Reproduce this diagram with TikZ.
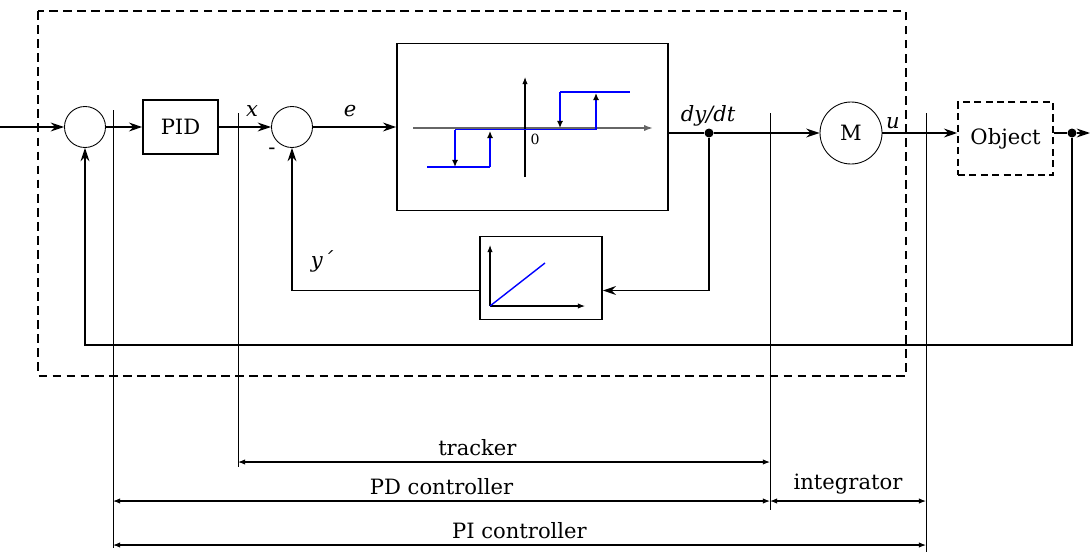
\documentclass[tikz,border=0pt]{standalone}
\usepackage{fontspec}
\setmainfont{DejaVu Serif}
\usetikzlibrary{positioning,arrows.meta}
\begin{document}
\begin{tikzpicture}[x=0.2mm, y=-0.2mm, node distance=1.2cm, >={Stealth[length=7.5pt,width=5pt]}, font=\fontsize{12}{14}\selectfont]
    \tikzstyle{sum}=[draw, circle, line width=0.5pt, minimum size=0.82cm, inner sep=0pt]
    \tikzstyle{block}=[draw, rectangle, line width=0.9pt, inner sep=0pt, align=center]
    \tikzstyle{sig}=[line width=1.1pt]
    \tikzstyle{tick}=[line width=0.5pt]
    \tikzstyle{dim}=[line width=0.6pt, {Latex[length=4pt,width=3pt]}-{Latex[length=4pt,width=3pt]}]
    \tikzstyle{dot}=[circle, fill, inner sep=0pt, minimum size=0.18cm]
    \tikzstyle{curve}=[blue, line width=0.8pt]
    \tikzstyle{jump}=[curve, -{Latex[color=black,length=4pt,width=3.5pt]}]
    \tikzstyle{axis}=[line width=0.6pt, -{Latex[length=4pt,width=3pt]}]
    \tikzstyle{lbl}=[anchor=base, font=\fontsize{12}{14}\selectfont\itshape]

    \useasboundingbox (0,0) rectangle (1091,552);

    \node[sum] (s1) at (85,127) {};
    \node[block, minimum width=1.5cm, minimum height=1.08cm, right of=s1, xshift=0.71cm] (pid) {PID};
    \node[sum, right of=pid, xshift=1.03cm] (s2) {};
    \node[block, minimum width=5.42cm, minimum height=3.34cm, right of=s2, xshift=3.61cm] (hyst) {};
    \node[sum, minimum size=1.24cm, right of=hyst, xshift=5.17cm, yshift=-0.12cm] (m) {M};
    \node[block, dashed, dash pattern=on 4pt off 2.5pt, minimum width=1.9cm, minimum height=1.46cm, right of=m, xshift=1.89cm, yshift=-0.11cm] (obj) {Object};
    \node[block, minimum width=2.44cm, minimum height=1.66cm, below of=hyst, xshift=0.17cm, yshift=-1.82cm] (ramp) {};
    \node[dot] (dy) at (709,133) {};
    \node[dot] (yo) at (1072,133) {};

    \draw[line width=1.1pt, dash pattern=on 5pt off 3pt] (38,11) rectangle (906,376);

    % hysteresis
    \draw[gray!80!black, line width=0.9pt, -{Latex[length=5pt,width=3.5pt]}] (413,128) -- (653,128);
    \draw[axis] (525,177) -- (525,77);
    \node[font=\fontsize{8}{9}\selectfont] at (535,139) {0};
    \draw[curve] (427,167) -- (490,167);
    \draw[curve] (455,129.5) -- (596,129.5);
    \draw[curve] (560,92) -- (630,92);
    \draw[jump] (455,129.5) -- (455,167);
    \draw[jump] (490,167) -- (490,131);
    \draw[jump] (560,92) -- (560,128);
    \draw[jump] (596,129.5) -- (596,93);

    % ramp
    \draw[axis] (490,306) -- (490,245);
    \draw[axis] (490,306) -- (585,306);
    \draw[curve] (490,306) -- (545,263);

    \coordinate (in) at (0,127);
    \coordinate (out) at (1090,133);
    \coordinate (fb) at (1072,345);
    \draw[sig,->] (in) -- (s1);
    \draw[sig,->] (s1) -- (pid);
    \draw[sig,->] (pid) -- (s2);
    \draw[sig,->] (s2) -- (hyst);
    \draw[sig] (hyst.east |- dy) -- (dy);
    \draw[sig,->] (dy) -- (m);
    \draw[sig,->] (dy) |- ([yshift=-0.25cm]ramp.east);
    \draw[sig,->] ([yshift=-0.25cm]ramp.west) -| (s2);
    \draw[sig,->] (m.east) -- (obj.west |- m.east);
    \draw[sig] (obj.east |- yo) -- (yo);
    \draw[sig,->] (yo) -- (out);
    \draw[sig,->] (yo) -- (fb) -| (s1);

    \node[lbl] at (252,116) {x};
    \node[lbl] at (350,116) {e};
    \node[lbl] at (708,121) {dy/dt};
    \node[lbl] at (893,128) {u};
    \node[lbl] at (322,267) {y´};
    \node at (272,151) {-};

    % ranges
    \coordinate (t1) at (113,110);
    \coordinate (t1b) at (113,548);
    \coordinate (t2) at (238,113);
    \coordinate (t2b) at (238,467);
    \coordinate (t3) at (770,113);
    \coordinate (t3b) at (770,510);
    \coordinate (t4) at (926,113);
    \coordinate (t4b) at (926,552);
    \coordinate (tr) at (0,462);
    \coordinate (pd) at (0,501);
    \coordinate (pi) at (0,545);
    \draw[tick] (t1) -- (t1b);
    \draw[tick] (t2) -- (t2b);
    \draw[tick] (t3) -- (t3b);
    \draw[tick] (t4) -- (t4b);
    \draw[dim] (t2 |- tr) -- node[above, pos=0.45] {tracker} (t3 |- tr);
    \draw[dim] (t1 |- pd) -- node[above] {PD controller} (t3 |- pd);
    \draw[dim] (t3 |- pd) -- node[above] {integrator} (t4 |- pd);
    \draw[dim] (t1 |- pi) -- node[above] {PI controller} (t4 |- pi);
\end{tikzpicture}
\end{document}
